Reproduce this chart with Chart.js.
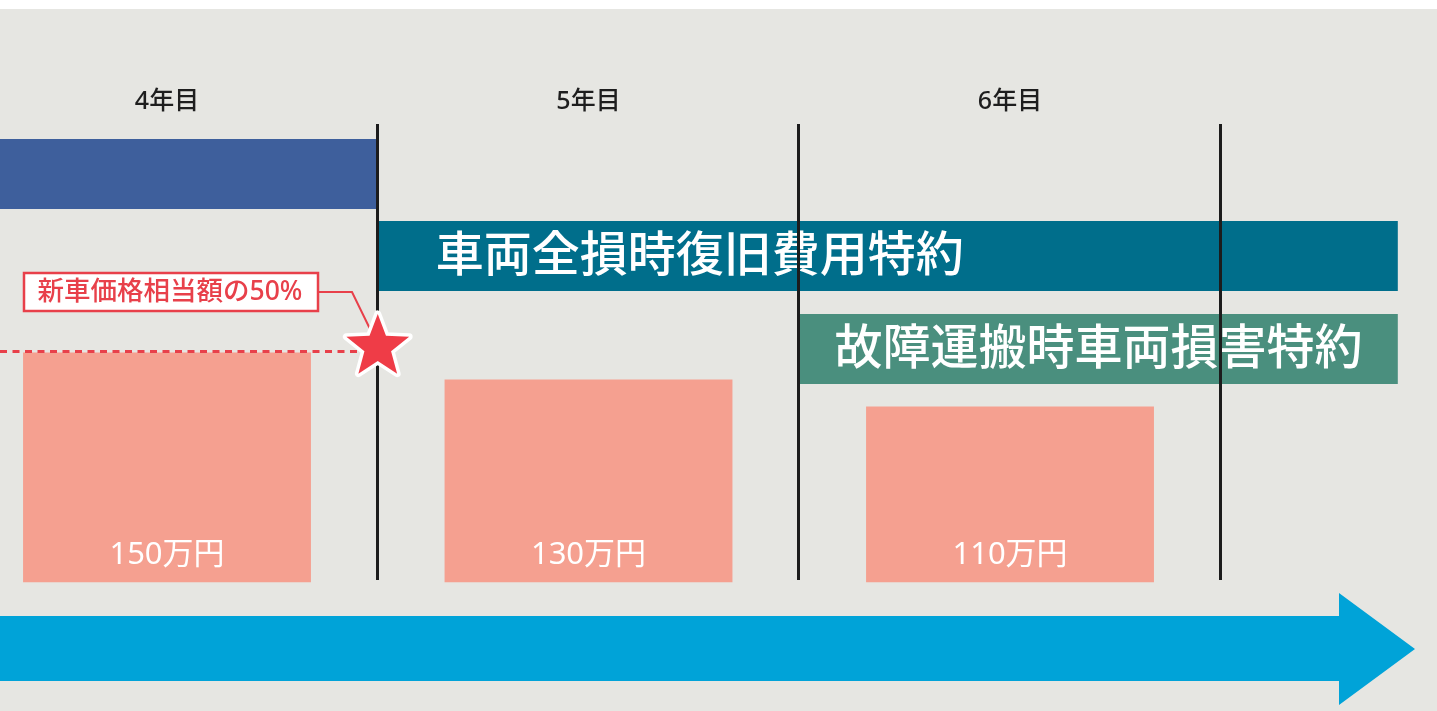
<!DOCTYPE html>
<html>
<head>
<meta charset="utf-8">
<script src="https://cdn.jsdelivr.net/npm/chart.js@4.4.1/dist/chart.umd.min.js"></script>
<style>
  html, body { margin: 0; padding: 0; background: #ffffff; }
  #wrap { position: relative; width: 1437px; height: 711px; }
  canvas { display: block; }
</style>
</head>
<body>
<div id="wrap"><canvas id="c" width="1437" height="711"></canvas></div>
<script>
// ---- data ----
const YEARS = [4, 5, 6];
const YEAR_LABELS = ['4年目', '5年目', '6年目'];
const PRICES = [150, 130, 110];
const PRICE_LABELS = ['150万円', '130万円', '110万円'];
const REF_VALUE = 150;
const REF_LABEL = '新車価格相当額の50%';
const BOUNDARIES = [4.5, 5.5, 6.5];
const COVER_NAMES = ['', '車両全損時復旧費用特約', '故障運搬時車両損害特約'];
const COVER_FROM = [3.6, 4.5, 5.5];
const COVER_TO = [4.5, 6.92, 6.92];

// ---- axis ranges ----
const X_MIN = 3.6038, X_MAX = 7.013;
const Y_MIN = -20, Y_MAX = 324;

// ---- styles ----
const FONT = '"Noto Sans", "Noto Sans CJK JP", sans-serif';
const BG = '#e6e6e2';
const BAR_COLOR = '#f5a090';
const COVER_COLORS = ['#3e5f9c', '#006e8b', '#4a8f7e'];
const COVER_LANES = [[139, 209], [221, 291], [314, 384]];
const RED = '#e8404a';
const STAR_RED = '#ef3c47';
const ARROW_COLOR = '#00a3d8';

const decor = {
  id: 'decor',
  beforeDraw(chart) {
    const ctx = chart.ctx;
    ctx.save();
    ctx.fillStyle = '#ffffff';
    ctx.fillRect(0, 0, chart.width, chart.height);
    ctx.fillStyle = BG;
    ctx.fillRect(0, 9, chart.width, chart.height - 9);
    ctx.restore();
  },
  beforeDatasetsDraw(chart) {
    const ctx = chart.ctx, xs = chart.scales.x;
    ctx.save();
    COVER_NAMES.forEach((name, i) => {
      const x0 = Math.max(0, xs.getPixelForValue(COVER_FROM[i]));
      const x1 = xs.getPixelForValue(COVER_TO[i]);
      const [t, b] = COVER_LANES[i];
      ctx.fillStyle = COVER_COLORS[i];
      ctx.fillRect(x0, t, x1 - x0, b - t);
      if (name) {
        ctx.fillStyle = '#ffffff';
        ctx.font = '500 48px ' + FONT;
        ctx.textBaseline = 'middle';
        if (i === 1) {
          ctx.textAlign = 'left';
          ctx.fillText(name, x0 + 58, (t + b) / 2 + 1);
        } else {
          ctx.textAlign = 'center';
          ctx.fillText(name, (x0 + x1) / 2, (t + b) / 2 + 1);
        }
      }
    });
    ctx.restore();
  },
  afterDatasetsDraw(chart) {
    const ctx = chart.ctx, xs = chart.scales.x, ys = chart.scales.y;
    const area = chart.chartArea;
    ctx.save();
    // bar labels
    const meta = chart.getDatasetMeta(0);
    ctx.fillStyle = '#ffffff';
    ctx.font = '400 31px ' + FONT;
    ctx.textAlign = 'center';
    ctx.textBaseline = 'middle';
    meta.data.forEach((bar, i) => {
      ctx.fillText(PRICE_LABELS[i], bar.x, bar.base - 27);
    });
    // boundaries
    ctx.strokeStyle = '#1c1c1c';
    ctx.lineWidth = 3;
    BOUNDARIES.forEach(v => {
      const x = Math.round(xs.getPixelForValue(v)) - 0.5;
      ctx.beginPath();
      ctx.moveTo(x, 124);
      ctx.lineTo(x, 580);
      ctx.stroke();
    });
    // reference dashed line
    const ry = ys.getPixelForValue(REF_VALUE);
    const sx = xs.getPixelForValue(BOUNDARIES[0]);
    ctx.strokeStyle = RED;
    ctx.lineWidth = 3;
    ctx.setLineDash([7, 5.5]);
    ctx.beginPath();
    ctx.moveTo(area.left, Math.round(ry) - 0.5);
    ctx.lineTo(sx - 20, Math.round(ry) - 0.5);
    ctx.stroke();
    ctx.setLineDash([]);
    // callout leader
    ctx.lineWidth = 2;
    ctx.beginPath();
    ctx.moveTo(319, 292);
    ctx.lineTo(352, 292);
    ctx.lineTo(sx - 6, ry - 20);
    ctx.stroke();
    // callout box
    ctx.fillStyle = '#ffffff';
    ctx.fillRect(24, 273, 294, 38);
    ctx.lineWidth = 2.5;
    ctx.strokeRect(24, 273, 294, 38);
    ctx.fillStyle = RED;
    ctx.font = '500 26.5px ' + FONT;
    ctx.textAlign = 'center';
    ctx.textBaseline = 'middle';
    ctx.fillText(REF_LABEL, 170, 292);
    // star
    const cx = sx, cy = ry - 5.5, R = 33, r = 14;
    ctx.beginPath();
    for (let k = 0; k < 10; k++) {
      const rad = k % 2 ? r : R;
      const a = -Math.PI / 2 + k * Math.PI / 5;
      ctx.lineTo(cx + rad * Math.cos(a), cy + rad * Math.sin(a));
    }
    ctx.closePath();
    ctx.lineJoin = 'round';
    ctx.strokeStyle = '#ffffff';
    ctx.lineWidth = 7;
    ctx.stroke();
    ctx.fillStyle = STAR_RED;
    ctx.fill();
    // timeline arrow
    ctx.fillStyle = ARROW_COLOR;
    ctx.beginPath();
    ctx.moveTo(0, 616);
    ctx.lineTo(1339, 616);
    ctx.lineTo(1339, 593);
    ctx.lineTo(1415, 649);
    ctx.lineTo(1339, 705);
    ctx.lineTo(1339, 681);
    ctx.lineTo(0, 681);
    ctx.closePath();
    ctx.fill();
    ctx.restore();
  }
};

new Chart(document.getElementById('c'), {
  type: 'bar',
  data: {
    datasets: [{
      data: YEARS.map((x, i) => ({ x: x, y: PRICES[i] })),
      backgroundColor: BAR_COLOR,
      borderWidth: 0,
      base: Y_MIN,
      barPercentage: 0.683,
      categoryPercentage: 1
    }]
  },
  options: {
    responsive: false,
    animation: false,
    layout: { padding: { top: 87, bottom: 128.5, left: 0, right: 0 } },
    plugins: { legend: { display: false }, tooltip: { enabled: false } },
    scales: {
      x: {
        type: 'linear',
        position: 'top',
        offset: false,
        min: X_MIN,
        max: X_MAX,
        grid: { display: false, drawTicks: false, offset: false },
        border: { display: false },
        afterBuildTicks: s => { s.ticks = YEARS.map(v => ({ value: v })); },
        ticks: {
          padding: 0,
          autoSkip: false,
          maxRotation: 0,
          color: '#1e1e1e',
          font: { family: FONT, size: 25, weight: '500' },
          callback: (v, i) => YEAR_LABELS[i]
        }
      },
      y: { display: false, min: Y_MIN, max: Y_MAX }
    }
  },
  plugins: [decor]
});
</script>
</body>
</html>
